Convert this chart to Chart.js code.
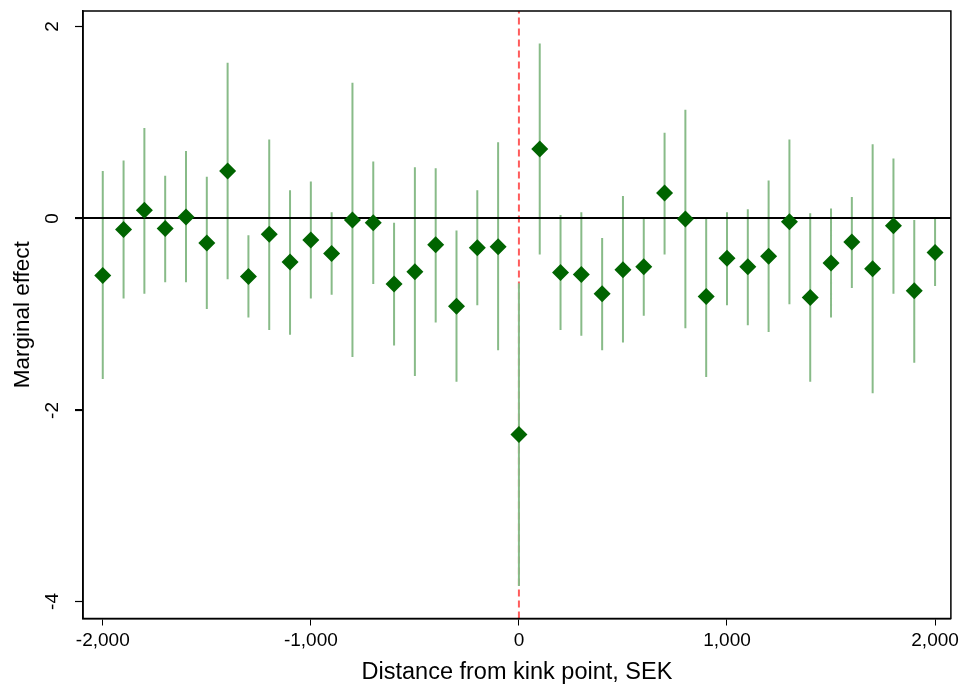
<!DOCTYPE html>
<html lang="en">
<head>
  <meta charset="UTF-8">
  <title>Marginal effect by distance from kink point</title>
  <script src="https://cdn.jsdelivr.net/npm/chart.js"></script>
  <style>
    body { margin: 0; background: #fff; }
    .chart-container { position: relative; width: 965px; height: 684px; }
  </style>
</head>
<body>
  <div class="chart-container">
    <canvas id="effectChart"></canvas>
  </div>

  <script>
    // Distance bins (SEK)
    const distance = [-2000, -1900, -1800, -1700, -1600, -1500, -1400, -1300, -1200, -1100,
                      -1000, -900, -800, -700, -600, -500, -400, -300, -200, -100,
                      0, 100, 200, 300, 400, 500, 600, 700, 800, 900,
                      1000, 1100, 1200, 1300, 1400, 1500, 1600, 1700, 1800, 1900, 2000];

    // Point estimates
    const estimate = [-0.60, -0.12, 0.08, -0.11, 0.01, -0.26, 0.49, -0.61, -0.17, -0.46,
                      -0.23, -0.37, -0.02, -0.05, -0.69, -0.56, -0.28, -0.92, -0.31, -0.30,
                      -2.26, 0.72, -0.57, -0.59, -0.79, -0.54, -0.51, 0.26, -0.01, -0.82,
                      -0.42, -0.51, -0.40, -0.04, -0.83, -0.47, -0.25, -0.53, -0.08, -0.76, -0.36];

    // Confidence interval bounds
    const ciHigh = [0.49, 0.60, 0.94, 0.44, 0.70, 0.43, 1.62, -0.18, 0.82, 0.29,
                    0.38, 0.06, 1.41, 0.59, -0.05, 0.53, 0.52, -0.13, 0.29, 0.79,
                    -0.68, 1.82, 0.03, 0.06, -0.21, 0.23, -0.01, 0.89, 1.13, 0.00,
                    0.06, 0.09, 0.39, 0.82, 0.05, 0.10, 0.22, 0.77, 0.62, -0.02, -0.01];
    const ciLow = [-1.68, -0.84, -0.79, -0.67, -0.67, -0.95, -0.64, -1.04, -1.17, -1.22,
                   -0.84, -0.80, -1.45, -0.69, -1.33, -1.65, -1.09, -1.71, -0.91, -1.38,
                   -3.84, -0.38, -1.17, -1.23, -1.38, -1.30, -1.02, -0.38, -1.15, -1.66,
                   -0.91, -1.12, -1.19, -0.90, -1.71, -1.04, -0.73, -1.83, -0.79, -1.51, -0.71];

    // Axis ticks and ranges
    const xTicks = [-2000, -1000, 0, 1000, 2000];
    const yTicks = [-4, -2, 0, 2];
    const xRange = [-2095, 2076];
    const yRange = [-4.18, 2.16];

    const FONT = "'Liberation Sans', Arial, sans-serif";
    const TICK_LEN = 8;

    // Build point and interval data
    const pointData = distance.map((x, i) => ({ x: x, y: estimate[i] }));
    const ciData = [];
    distance.forEach((x, i) => {
      ciData.push({ x: x, y: ciLow[i] });
      ciData.push({ x: x, y: ciHigh[i] });
      ciData.push({ x: x, y: null });
    });

    // Frame around plot area + y tick marks and rotated labels
    const framePlugin = {
      id: 'frame',
      afterDraw(chart) {
        const a = chart.chartArea;
        const ctx = chart.ctx;
        const yScale = chart.scales.y;
        ctx.save();
        ctx.strokeStyle = '#000';
        ctx.lineWidth = 1.5;
        ctx.strokeRect(a.left, a.top, a.right - a.left, a.bottom - a.top);

        ctx.fillStyle = '#000';
        ctx.lineWidth = 1.2;
        ctx.font = '19px ' + FONT;
        ctx.textAlign = 'center';
        ctx.textBaseline = 'middle';
        yTicks.forEach(v => {
          const py = Math.round(yScale.getPixelForValue(v)) + 0.5;
          ctx.beginPath();
          ctx.moveTo(a.left - TICK_LEN, py);
          ctx.lineTo(a.left, py);
          ctx.stroke();
          // label reads bottom to top
          ctx.save();
          ctx.translate(a.left - TICK_LEN - 22, py);
          ctx.rotate(-Math.PI / 2);
          ctx.fillText(String(v), 0, 0);
          ctx.restore();
        });
        ctx.restore();
      }
    };

    new Chart(document.getElementById('effectChart'), {
      type: 'scatter',
      data: {
        datasets: [
          {
            label: 'Estimate',
            data: pointData,
            pointStyle: 'rectRot',
            pointRadius: 8.5,
            pointHoverRadius: 8.5,
            backgroundColor: '#006400',
            borderColor: '#006400',
            borderWidth: 0,
            showLine: false,
            order: 0
          },
          {
            label: 'Zero',
            data: [{ x: xRange[0], y: 0 }, { x: xRange[1], y: 0 }],
            showLine: true,
            borderColor: '#000',
            borderWidth: 2,
            pointRadius: 0,
            order: 1
          },
          {
            label: 'CI',
            data: ciData,
            showLine: true,
            spanGaps: false,
            borderColor: '#88bb88',
            borderWidth: 2,
            pointRadius: 0,
            order: 2
          },
          {
            label: 'Kink',
            data: [{ x: 0, y: yRange[0] }, { x: 0, y: yRange[1] }],
            showLine: true,
            borderColor: '#ff5c5c',
            borderWidth: 2,
            borderDash: [7, 4],
            pointRadius: 0,
            order: 3
          }
        ]
      },
      options: {
        responsive: true,
        maintainAspectRatio: false,
        animation: false,
        layout: { padding: { top: 11, right: 6, left: 4, bottom: 0 } },
        plugins: {
          legend: { display: false },
          tooltip: { enabled: false }
        },
        scales: {
          x: {
            type: 'linear',
            min: xRange[0],
            max: xRange[1],
            afterBuildTicks: (axis) => { axis.ticks = xTicks.map(v => ({ value: v })); },
            ticks: {
              color: '#000',
              font: { family: FONT, size: 19, lineHeight: 1 },
              maxRotation: 0,
              padding: 6,
              callback: (v) => Number(v).toLocaleString('en-US')
            },
            grid: { drawOnChartArea: false, tickLength: 7, color: '#000', lineWidth: 1 },
            border: { color: '#000', width: 1.5 },
            title: {
              display: true,
              text: 'Distance from kink point, SEK',
              color: '#000',
              font: { family: FONT, size: 23.5, lineHeight: 1 },
              padding: { top: 4, bottom: 0 }
            }
          },
          y: {
            type: 'linear',
            min: yRange[0],
            max: yRange[1],
            afterBuildTicks: (axis) => { axis.ticks = yTicks.map(v => ({ value: v })); },
            ticks: { display: false },
            grid: { drawOnChartArea: false, tickLength: TICK_LEN, color: '#000', lineWidth: 1 },
            border: { color: '#000', width: 1.5 },
            title: {
              display: true,
              text: 'Marginal effect',
              color: '#000',
              font: { family: FONT, size: 22.5, lineHeight: 1 },
              padding: { top: 8, bottom: 40.5 }
            }
          }
        }
      },
      plugins: [framePlugin]
    });
  </script>
</body>
</html>
